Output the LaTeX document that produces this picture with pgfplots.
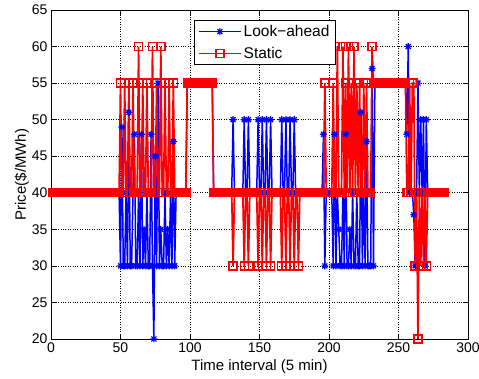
\documentclass[border=0pt]{standalone}
\usepackage{fontspec}
\setmainfont{Liberation Sans}
\usepackage{pgfplots}
\pgfplotsset{compat=1.18}
\usepackage{pgfplotstable}
\pgfdeclareplotmark{mstar}{%
  \pgfpathmoveto{\pgfqpoint{-\pgfplotmarksize}{0pt}}\pgfpathlineto{\pgfqpoint{\pgfplotmarksize}{0pt}}%
  \pgfpathmoveto{\pgfqpoint{0pt}{-\pgfplotmarksize}}\pgfpathlineto{\pgfqpoint{0pt}{\pgfplotmarksize}}%
  \pgfpathmoveto{\pgfqpoint{-0.707\pgfplotmarksize}{-0.707\pgfplotmarksize}}\pgfpathlineto{\pgfqpoint{0.707\pgfplotmarksize}{0.707\pgfplotmarksize}}%
  \pgfpathmoveto{\pgfqpoint{-0.707\pgfplotmarksize}{0.707\pgfplotmarksize}}\pgfpathlineto{\pgfqpoint{0.707\pgfplotmarksize}{-0.707\pgfplotmarksize}}%
  \pgfusepathqstroke}
\pgfplotstableread[row sep=\\]{
x B R\\
1 40 40\\ 2 40 40\\ 3 40 40\\ 4 40 40\\ 5 40 40\\ 6 40 40\\ 7 40 40\\ 8 40 40\\ 9 40 40\\ 10 40 40\\
11 40 40\\ 12 40 40\\ 13 40 40\\ 14 40 40\\ 15 40 40\\ 16 40 40\\ 17 40 40\\ 18 40 40\\ 19 40 40\\ 20 40 40\\
21 40 40\\ 22 40 40\\ 23 40 40\\ 24 40 40\\ 25 40 40\\ 26 40 40\\ 27 40 40\\ 28 40 40\\ 29 40 40\\ 30 40 40\\
31 40 40\\ 32 40 40\\ 33 40 40\\ 34 40 40\\ 35 40 40\\ 36 40 40\\ 37 40 40\\ 38 40 40\\ 39 40 40\\ 40 40 40\\
41 40 40\\ 42 40 40\\ 43 40 40\\ 44 40 40\\ 45 40 40\\ 46 40 40\\ 47 40 40\\ 48 40 40\\ 49 40 40\\
50 30 55\\ 51 49 40\\ 52 30 40\\ 53 30 55\\ 54 40 40\\ 55 30 40\\ 56 51 55\\ 57 30 40\\ 58 30 40\\ 59 40 55\\
60 48 40\\ 61 30 40\\ 62 30 40\\ 63 40 60\\ 64 30 40\\ 65 48 40\\ 66 30 55\\ 67 35 40\\ 68 30 40\\ 69 40 55\\
70 30 40\\ 71 30 40\\ 72 48 40\\ 73 30 60\\ 74 20 40\\ 75 45 40\\ 76 30 55\\ 77 55 40\\ 78 30 40\\ 79 35 60\\
80 30 40\\ 81 30 40\\ 82 40 55\\ 83 30 40\\ 84 35 40\\ 85 30 55\\ 86 40 40\\ 87 30 40\\ 88 47 55\\ 89 30 40\\
90 40 40\\ 91 40 40\\ 92 40 40\\ 93 40 40\\ 94 40 40\\ 95 40 40\\ 96 40 40\\ 97 40 40\\
98 55 55\\ 99 55 55\\ 100 55 55\\ 101 55 55\\ 102 55 55\\ 103 55 55\\ 104 55 55\\ 105 55 55\\ 106 55 55\\ 107 55 55\\
108 55 55\\ 109 55 55\\ 110 55 55\\ 111 55 55\\ 112 55 55\\ 113 55 55\\ 114 55 55\\ 115 55 55\\ 116 55 55\\
117 40 40\\ 118 40 40\\ 119 40 40\\ 120 40 40\\ 121 40 40\\ 122 40 40\\ 123 40 40\\ 124 40 40\\ 125 40 40\\ 126 40 40\\
127 40 40\\ 128 40 40\\ 129 40 40\\ 130 40 40\\
131 50 30\\ 132 40 40\\ 133 40 40\\ 134 40 40\\ 135 40 40\\ 136 40 40\\ 137 40 40\\ 138 40 40\\ 139 50 30\\ 140 40 40\\
141 40 40\\ 142 50 30\\ 143 40 40\\ 144 40 40\\ 145 40 40\\ 146 40 40\\ 147 40 40\\ 148 40 40\\ 149 50 30\\ 150 40 40\\
151 40 40\\ 152 50 30\\ 153 40 40\\ 154 40 40\\ 155 50 30\\ 156 40 40\\ 157 40 40\\ 158 50 30\\ 159 40 40\\ 160 40 40\\
161 40 40\\ 162 40 40\\ 163 40 40\\ 164 40 40\\ 165 40 40\\ 166 50 30\\ 167 40 40\\ 168 40 40\\ 169 50 30\\ 170 40 40\\
171 40 40\\ 172 50 30\\ 173 40 40\\ 174 40 40\\ 175 50 30\\ 176 40 40\\ 177 40 40\\ 178 40 30\\
179 40 40\\ 180 40 40\\ 181 40 40\\ 182 40 40\\ 183 40 40\\ 184 40 40\\ 185 40 40\\ 186 40 40\\ 187 40 40\\ 188 40 40\\
189 40 40\\ 190 40 40\\ 191 40 40\\ 192 40 40\\ 193 40 40\\ 194 40 40\\ 195 40 40\\
196 48 40\\ 197 30 55\\ 198 40 40\\ 199 40 40\\ 200 40 40\\ 201 40 40\\ 202 40 40\\
203 30 55\\ 204 48 40\\ 205 30 40\\ 206 40 60\\ 207 35 40\\ 208 30 40\\ 209 30 40\\ 210 40 60\\
211 30 40\\ 212 48 55\\ 213 30 40\\ 214 30 60\\ 215 35 40\\ 216 30 55\\ 217 40 40\\ 218 30 60\\ 219 30 40\\ 220 40 55\\
221 30 40\\ 222 30 55\\ 223 51 40\\ 224 30 40\\ 225 40 55\\ 226 30 40\\ 227 47 55\\ 228 30 40\\ 229 30 40\\ 230 30 40\\
231 57 60\\ 232 30 55\\
233 55 55\\ 234 55 55\\ 235 55 55\\ 236 55 55\\ 237 55 55\\ 238 55 55\\ 239 55 55\\ 240 55 55\\ 241 55 55\\ 242 55 55\\
243 55 55\\ 244 55 55\\ 245 55 55\\ 246 55 55\\ 247 55 55\\ 248 55 55\\ 249 55 55\\ 250 55 55\\ 251 55 55\\ 252 55 55\\
253 55 55\\ 254 55 55\\ 255 55 55\\
256 48 40\\ 257 60 40\\ 258 40 55\\ 259 40 40\\ 260 40 55\\ 261 37 55\\ 262 30 30\\ 263 40 40\\ 264 55 20\\ 265 40 40\\
266 50 30\\ 267 40 40\\ 268 50 30\\ 269 30 40\\ 270 50 30\\ 271 40 40\\
272 40 40\\ 273 40 40\\ 274 40 40\\ 275 40 40\\ 276 40 40\\ 277 40 40\\ 278 40 40\\ 279 40 40\\ 280 40 40\\
281 40 40\\ 282 40 40\\ 283 40 40\\
}\datatable
\begin{document}
\begin{tikzpicture}
\begin{axis}[
  width=417pt, height=329pt, scale only axis,
  xmin=0, xmax=300, ymin=20, ymax=65,
  xtick={0,50,...,300}, ytick={20,25,...,65},
  grid=major, major grid style={dotted, black, line width=0.6pt},
  axis line style={line width=0.8pt},
  tick style={black, line width=0.6pt}, major tick length=5pt,
  /pgf/number format/assume math mode=true,
  tick label style={font=\fontsize{14}{16}\selectfont},
  label style={font=\fontsize{15}{18}\selectfont},
  xlabel={Time interval (5 min)}, ylabel={Price(\$/MWh)},
  xlabel style={yshift=0pt},
  ylabel style={yshift=-4pt},
  legend style={at={(0.342,0.97)}, anchor=north west, draw=black, line width=0.8pt,
    font=\fontsize{15.5}{18}\selectfont, inner xsep=4pt, inner ysep=3pt, row sep=5pt},
  legend cell align=left,
  legend image code/.code={\draw[mark repeat=2,mark phase=2,#1] plot coordinates {(0pt,0pt) (21pt,0pt) (42pt,0pt)};},
]
\addplot[blue, line width=1.5pt, mark=mstar, mark size=3.5pt, mark options={line width=1.2pt, solid}] table[x=x, y=B] {\datatable};
\addlegendentry{Look−ahead}
\addplot[red, line width=1.7pt, mark=square, mark size=4pt, mark options={line width=1.4pt, solid}] table[x=x, y=R] {\datatable};
\addlegendentry{Static}
\end{axis}
\pgfresetboundingbox
\path[use as bounding box] ([xshift=-51pt,yshift=-40pt]current axis.south west) rectangle ([xshift=11pt,yshift=10pt]current axis.north east);
\end{tikzpicture}
\end{document}
